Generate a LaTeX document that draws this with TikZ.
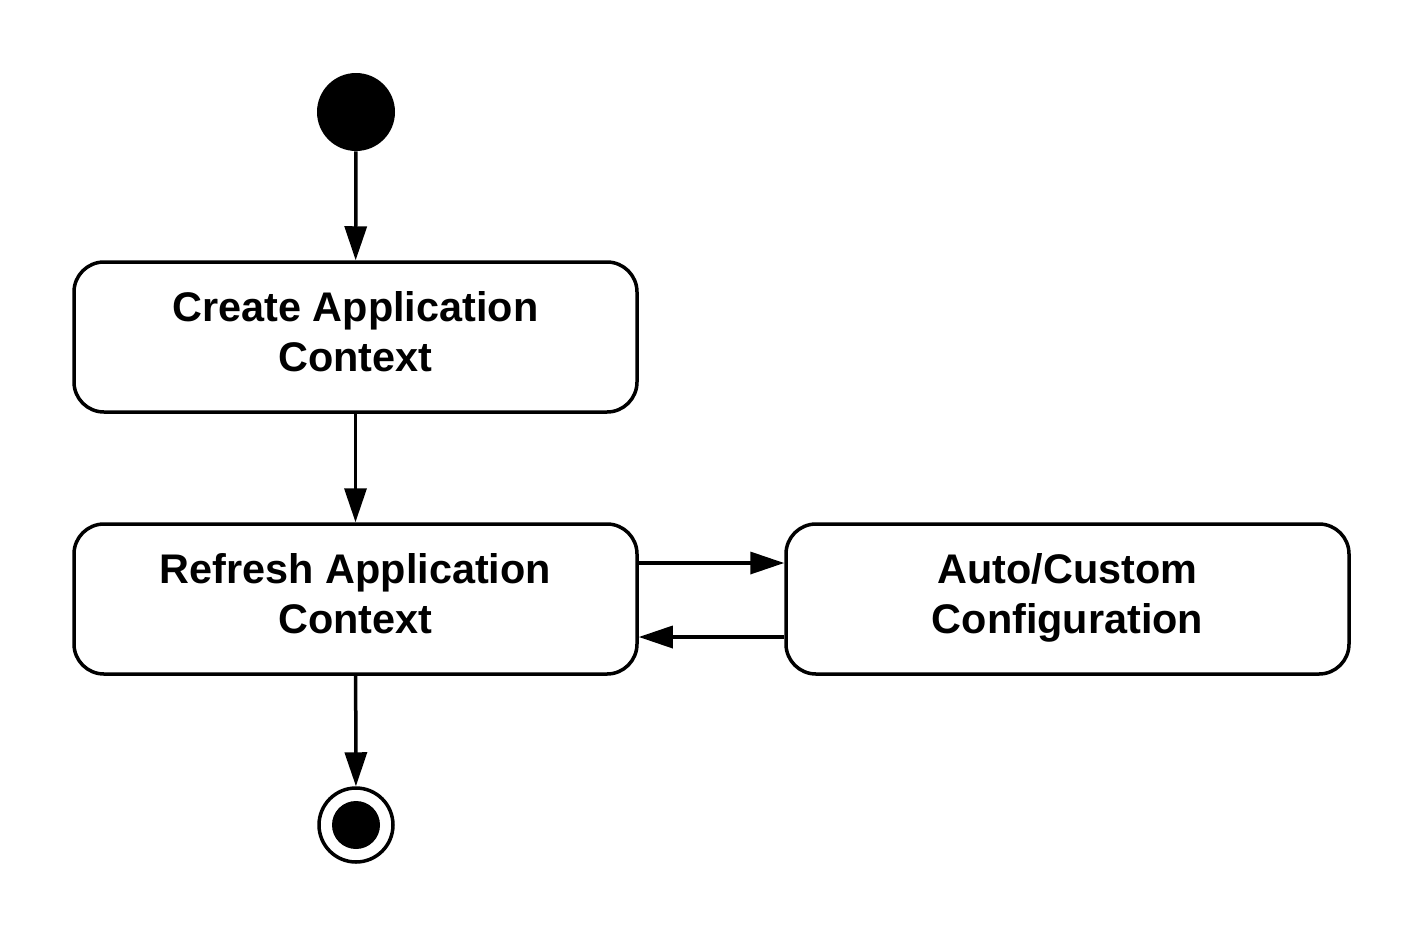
\documentclass[tikz,border=0pt]{standalone}
\usepackage{fontspec}
\setmainfont{Liberation Sans}
\usetikzlibrary{arrows.meta}
\begin{document}
\begin{tikzpicture}[x=0.5pt,y=-0.5pt,
  state/.style={draw, line width=1.75pt, rounded corners=15pt,
    minimum width=281.5pt, minimum height=75pt, align=center,
    font=\bfseries\fontsize{20.7}{25}\selectfont, text depth=6pt},
  arr/.style={line width=1.75pt, -{Triangle[length=17pt,width=11pt]}},
  initial/.style={circle, fill=black, minimum size=39pt, inner sep=0pt},
  final/.style={circle, draw, line width=1.75pt, minimum size=37pt, inner sep=0pt}]
\useasboundingbox (0,0) rectangle (1425,938);
\node[initial] (start) at (356,112) {};
\node[state] (create) at (355.5,337) {Create Application\\Context};
\node[state] (refresh) at (355.5,599) {Refresh Application\\Context};
\node[state] (auto) at (1067.5,599) {Auto/Custom\\Configuration};
\node[final] (end) at (356,825) {};
\fill (end.center) circle[radius=12pt];
\draw[arr] (start) -- (create);
\draw[arr] (create) -- (refresh);
\draw[arr] ([yshift=18pt]refresh.east) -- ([yshift=18pt]auto.west);
\draw[arr] ([yshift=-19pt]auto.west) -- ([yshift=-19pt]refresh.east);
\draw[arr] (refresh) -- (end);
\end{tikzpicture}
\end{document}
